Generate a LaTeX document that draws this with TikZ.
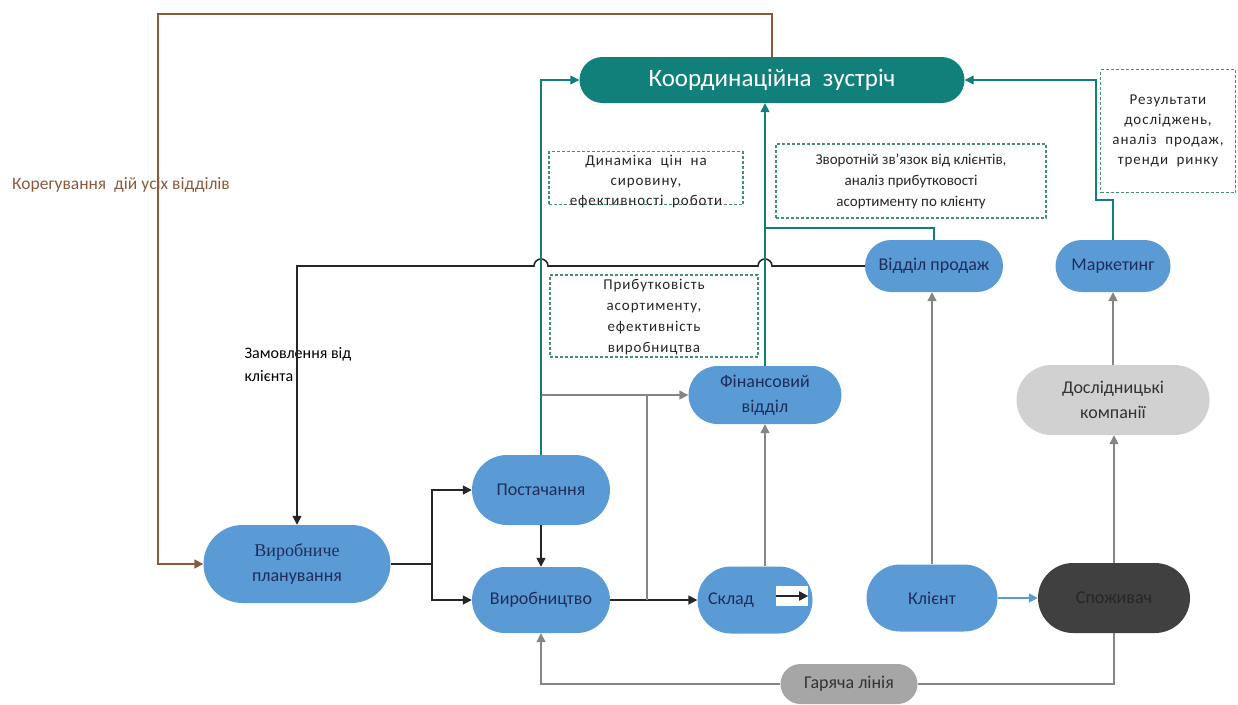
\documentclass[tikz,border=0pt]{standalone}
\usepackage{fontspec}
\setmainfont{Carlito}
\newfontfamily\oddserif{Liberation Serif}
\newfontfamily\widefont[LetterSpace=6]{Carlito}
\usetikzlibrary{positioning, shapes.misc, arrows.meta, calc}
\definecolor{deptblue}{HTML}{5B9BD5}
\definecolor{meetteal}{HTML}{12807A}
\definecolor{notegreen}{HTML}{3F8F7C}
\definecolor{fixbrown}{HTML}{8B5A3C}
\definecolor{navytext}{HTML}{1F2D5A}
\definecolor{linegray}{HTML}{858585}
\tikzset{
	deptnode/.style={
			rounded rectangle,
			fill=deptblue,
			text=navytext,
			font=\fontsize{18}{25}\selectfont,
			align=center,
			inner sep=0pt
		},
	meetnode/.style={
			deptnode,
			fill=meetteal,
			text=white,
			font=\fontsize{25}{30}\selectfont
		},
	consnode/.style={
			deptnode,
			fill=black!75,
			text=black!85
		},
	greynode/.style={
			deptnode,
			fill=black!35,
			text=black!80
		},
	lightnode/.style={
			deptnode,
			fill=black!18,
			text=black!80
		},
	notebox/.style={
			draw=notegreen,
			line width=1.2pt,
			dash pattern=on 3pt off 2pt
		},
	notetext/.style={
			align=center,
			font=\widefont\fontsize{15}{20}\selectfont,
			text=black!85
		},
	arr/.style={-{Triangle[length=9pt,width=9pt]}},
	orderline/.style={draw=black!85, line width=1.6pt},
	grayline/.style={draw=linegray, line width=1.4pt},
	noteline/.style={draw=meetteal, line width=1.4pt},
	fixline/.style={draw=fixbrown, line width=1.6pt}
}

\begin{document}
\begin{tikzpicture}[x=1pt, y=-1pt]
	\useasboundingbox (0,0) rectangle (1238,704);
	% nodes
	\node[meetnode, minimum width=385, minimum height=46] at (772,80) (meet) {Координаційна\ \ зустріч};
	\node[deptnode, minimum width=187, minimum height=78] at (297,564) (plan) {{\oddserif Виробниче}\\планування};
	\node[deptnode, minimum width=138, minimum height=70] at (541,490) (sup) {Постачання};
	\node[deptnode, minimum width=138, minimum height=66] at (541,600) (prod) {Виробництво};
	\node[deptnode, minimum width=115, minimum height=67] at (755,600) (store) {Склад\hspace{48pt}};
	\node[deptnode, minimum width=131, minimum height=67] at (932,598) (client) {Клієнт};
	\node[consnode, minimum width=152, minimum height=70] at (1114,598) (cons) {Споживач};
	\node[greynode, minimum width=137, minimum height=40] at (849,684) (hot) {Гаряча лінія};
	\node[deptnode, minimum width=153, minimum height=58] at (765,395) (fin) {Фінансовий\\відділ};
	\node[lightnode, minimum width=193, minimum height=70] at (1113,400) (research) {Дослідницькі\\компанії};
	\node[deptnode, minimum width=138, minimum height=52] at (934,266) (sales) {Відділ продаж};
	\node[deptnode, minimum width=115, minimum height=52] at (1113,266) (mkt) {Маркетинг};
	\node[fill=white, minimum width=32, minimum height=20, inner sep=0pt] at (792,596) (storebox) {};

	% dashed notes
	\node[notebox, minimum width=194, minimum height=53] at (646,178) (pricenote) {};
	\node[notetext] at (646,182) {Динаміка\ \ цін\ \ на\\сировину,\\ефективності\ \ роботи};
	\node[notebox, minimum width=270, minimum height=74] at (911,181) (feedbacknote) {};
	\node[notetext, font=\fontsize{15}{21}\selectfont] at (911,181) {Зворотній зв’язок від клієнтів,\\аналіз прибутковості\\асортименту по клієнту};
	\node[notebox, minimum width=135, minimum height=123] at (1168,131) (marketnote) {};
	\node[notetext] at (1168,131) {Результати\\досліджень,\\аналіз\ \ продаж,\\тренди\ \ ринку};
	\node[notebox, minimum width=208, minimum height=82] at (654,316) (profitnote) {};
	\node[notetext, font=\widefont\fontsize{15}{21}\selectfont] at (654,317) {Прибутковість\\асортименту,\\ефективність\\виробництва};

	% labels
	\node[text=fixbrown, font=\fontsize{17.5}{20}\selectfont] at (121,185) (fixlabel) {Корегування\ \ дій усіх відділів};
	\node[font=\fontsize{16}{23}\selectfont, align=left, anchor=north west] at (241,344) (orderlabel) {Замовлення від\\клієнта};

	% connectors
	\draw[fixline, arr] (meet.north) |- (158,14) |- (plan.west);
	\draw[orderline, arr] (sales.west) -- (772,266) arc (0:-180:7) -- (548,266) arc (0:-180:7) -- (plan.north |- sales.west) -- (plan.north);
	\draw[orderline] (plan.east) -- (432,564) coordinate (split);
	\draw[orderline, arr] (split) |- (sup.west);
	\draw[orderline, arr] (split) |- (prod.west);
	\draw[orderline, arr] (sup.south) -- (prod.north);
	\draw[orderline, arr] (prod.east) -- (store.west);
	\draw[orderline, arr] (storebox.west) -- (storebox.east);
	\coordinate (prodtap) at (647,600);
	\draw[grayline] (prodtap) -- (prodtap |- fin.west);
	\draw[grayline, arr] (sup.north |- fin.west) -- (fin.west);
	\draw[grayline, arr] (store.north -| fin.south) -- (fin.south);
	\draw[noteline, arr] (sup.north) |- (meet.west);
	\draw[noteline, arr] (fin.north) -- (fin.north |- meet.south);
	\draw[noteline] (sales.north) |- (765,228);
	\draw[noteline, arr] (mkt.north) |- (1096,200) |- (meet.east);
	\draw[grayline, arr] (client.north) -- (client.north |- sales.south);
	\draw[draw=deptblue, line width=1.4pt, arr] (client.east) -- (cons.west);
	\draw[grayline, arr] (cons.north) -- (cons.north |- research.south);
	\draw[grayline, arr] (research.north) -- (research.north |- mkt.south);
	\draw[grayline] (cons.south) |- (hot.east);
	\draw[grayline, arr] (hot.west) -| (prod.south);
\end{tikzpicture}
\end{document}
